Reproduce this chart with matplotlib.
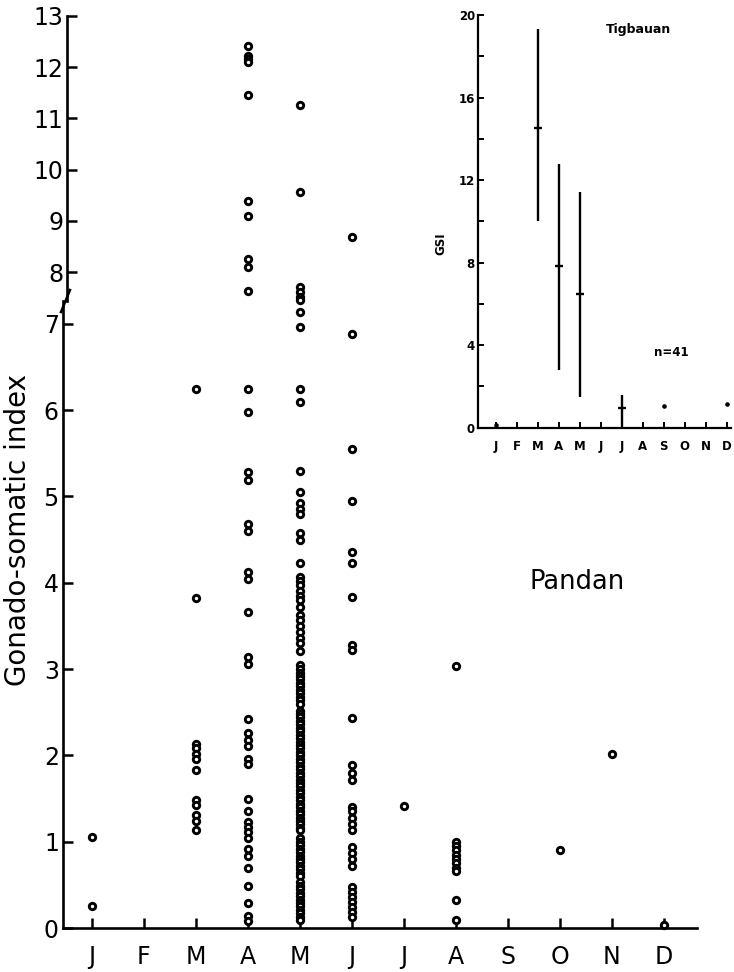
import matplotlib
matplotlib.use('Agg')
import matplotlib.pyplot as plt
from matplotlib.lines import Line2D
from matplotlib import font_manager

# month labels
months = ['J', 'F', 'M', 'A', 'M', 'J', 'J', 'A', 'S', 'O', 'N', 'D']

# Pandan: individual GSI values per month
gsi_jan = [1.05, 0.25]
gsi_feb = []
gsi_mar = [6.25, 3.82, 2.13, 2.08, 2.02, 1.96, 1.83, 1.48, 1.42, 1.31, 1.24, 1.13]
gsi_apr = [12.42, 12.22, 12.16, 12.1, 11.45, 9.38, 9.1, 8.26, 8.1, 7.63,
           6.25, 5.98, 5.28, 5.19, 4.68, 4.6, 4.12, 4.04, 3.66, 3.14, 3.06,
           2.42, 2.26, 2.18, 2.11, 1.96, 1.9, 1.5, 1.35, 1.23, 1.17, 1.11,
           1.04, 0.92, 0.83, 0.7, 0.49, 0.29, 0.14, 0.08]
gsi_may = [11.27, 9.56, 7.7, 7.62, 7.52, 7.45, 7.14, 6.96, 6.24, 6.1, 5.3,
           5.05, 4.92, 4.86, 4.8, 4.58, 4.5, 4.23, 4.07, 4.02, 3.97, 3.9,
           3.85, 3.8, 3.72, 3.63, 3.57, 3.5, 3.43, 3.36, 3.3, 3.21,
           3.05, 3.0, 2.96, 2.92, 2.88, 2.84, 2.8, 2.76, 2.72, 2.68, 2.64, 2.6,
           2.52, 2.48, 2.44, 2.4, 2.36, 2.32, 2.28, 2.24, 2.2, 2.16, 2.12,
           2.08, 2.04, 2.0, 1.96, 1.92, 1.88, 1.84, 1.8, 1.76, 1.72, 1.68,
           1.64, 1.6, 1.56, 1.52, 1.48, 1.44, 1.4, 1.36, 1.32, 1.28, 1.24,
           1.2, 1.16, 1.13, 1.04, 1.0, 0.96, 0.92, 0.88, 0.84, 0.8, 0.76,
           0.72, 0.68, 0.64, 0.6, 0.53, 0.49, 0.45, 0.41, 0.37, 0.33, 0.29,
           0.25, 0.21, 0.17, 0.13, 0.09]
gsi_jun = [8.68, 6.88, 5.55, 4.95, 4.36, 4.23, 3.84, 3.28, 3.22, 2.43, 1.89,
           1.8, 1.72, 1.4, 1.35, 1.28, 1.2, 1.13, 0.94, 0.87, 0.8, 0.72,
           0.48, 0.42, 0.36, 0.3, 0.24, 0.18, 0.13]
gsi_jul = [1.41]
gsi_aug = [3.03, 1.0, 0.95, 0.9, 0.85, 0.8, 0.75, 0.7, 0.66, 0.32, 0.09]
gsi_sep = []
gsi_oct = [0.9]
gsi_nov = [2.02]
gsi_dec = [0.04]
pandan = [gsi_jan, gsi_feb, gsi_mar, gsi_apr, gsi_may, gsi_jun,
          gsi_jul, gsi_aug, gsi_sep, gsi_oct, gsi_nov, gsi_dec]

# Tigbauan: monthly mean with range
tig_bar_month = [3, 4, 5, 7]
tig_bar_mean = [14.5, 7.85, 6.5, 0.97]
tig_bar_low = [10.0, 2.8, 1.5, 0.0]
tig_bar_high = [19.3, 12.8, 11.4, 1.6]
tig_dot_month = [1, 9, 12]
tig_dot_value = [0.15, 1.07, 1.15]

available = {f.name for f in font_manager.fontManager.ttflist}
num_font = 'Liberation Sans Narrow' if 'Liberation Sans Narrow' in available else 'DejaVu Sans'

W, H = 734, 972
fig = plt.figure(figsize=(W / 100, H / 100), dpi=100)

def fx(px):
    return px / W

def fy(py):
    return 1 - py / H

# broken y axis: lower 0-7, upper 8-13
ax_lo = fig.add_axes([fx(63), fy(928), fx(634), 627 / H])
ax_hi = fig.add_axes([fx(63), fy(301), fx(634), 285 / H])
for ax in (ax_lo, ax_hi):
    ax.set_xlim(0.448, 12.634)
    ax.patch.set_alpha(0)
    for s in ('top', 'right'):
        ax.spines[s].set_visible(False)
    ax.spines['left'].set_linewidth(1.9)
ax_hi.spines['bottom'].set_visible(False)
ax_hi.spines['left'].set_position(('outward', -3))
ax_lo.spines['bottom'].set_linewidth(1.9)
ax_lo.set_ylim(0, 7.265)
ax_hi.set_ylim(7.435, 13.0)

marker = dict(marker='o', ls='none', mfc='white', mec='black', ms=4.6, mew=2.1, clip_on=False)
for i, vals in enumerate(pandan):
    low = [v for v in vals if v < 7.3]
    high = [v for v in vals if v >= 7.3]
    ax_lo.plot([i + 1] * len(low), low, **marker)
    ax_hi.plot([i + 1] * len(high), high, **marker)

ax_lo.set_yticks(range(0, 8))
ax_hi.set_yticks(range(8, 14))
ax_lo.set_xticks(range(1, 13))
ax_lo.set_xticklabels(months)
ax_hi.set_xticks([])
ax_lo.tick_params(axis='y', direction='in', length=7, width=1.8, labelsize=17, pad=3)
ax_hi.tick_params(axis='y', direction='in', length=7, width=1.8, labelsize=17, pad=3)
ax_lo.tick_params(axis='x', direction='in', length=7, width=1.8, labelsize=17, pad=12)
for ax in (ax_lo, ax_hi):
    for lab in ax.get_yticklabels():
        lab.set_fontfamily(num_font)

# break mark on the y axis
fig.add_artist(Line2D([fx(61), fx(70)], [fy(312), fy(290)], color='black', lw=1.8))

fig.text(fx(18), fy(530), 'Gonado-somatic index', rotation=90, fontsize=20,
         ha='center', va='center')
fig.text(fx(577), fy(582), 'Pandan', fontsize=18.5, ha='center', va='center')

# inset: Tigbauan
ax_in = fig.add_axes([fx(477.7), fy(427.7), fx(253), 412.7 / H])
ax_in.set_xlim(0.143, 12.2)
ax_in.set_ylim(0, 20)
ax_in.patch.set_alpha(0)
for s in ('top', 'right'):
    ax_in.spines[s].set_visible(False)
for s in ('left', 'bottom'):
    ax_in.spines[s].set_linewidth(1.6)
ax_in.vlines(tig_bar_month, tig_bar_low, tig_bar_high, color='black', lw=1.7)
ax_in.plot(tig_bar_month, tig_bar_mean, marker='_', ls='none', color='black',
           ms=6, mew=1.7, clip_on=False)
ax_in.plot(tig_dot_month, tig_dot_value, marker='o', ls='none', color='black',
           ms=2.3, clip_on=False)
ax_in.set_yticks(range(0, 21, 4))
ax_in.set_yticks(range(2, 20, 4), minor=True)
ax_in.set_xticks(range(1, 13))
ax_in.set_xticklabels(months)
ax_in.tick_params(which='both', direction='in', length=4, width=1.4,
                  labelsize=8.5, pad=2)
ax_in.tick_params(axis='x', pad=9)
for lab in ax_in.get_xticklabels() + ax_in.get_yticklabels():
    lab.set_fontweight('bold')
ax_in.set_ylabel('GSI', fontsize=8.5, fontweight='bold')
ax_in.yaxis.set_label_coords(-0.12, 0.447)
ax_in.text(fx(638), fy(30), 'Tigbauan', transform=fig.transFigure, fontsize=9,
           fontweight='bold', ha='center', va='center')
ax_in.text(fx(671), fy(353), 'n=41', transform=fig.transFigure, fontsize=8.5,
           fontweight='bold', ha='center', va='center')

fig.savefig('out.png', dpi=100)
